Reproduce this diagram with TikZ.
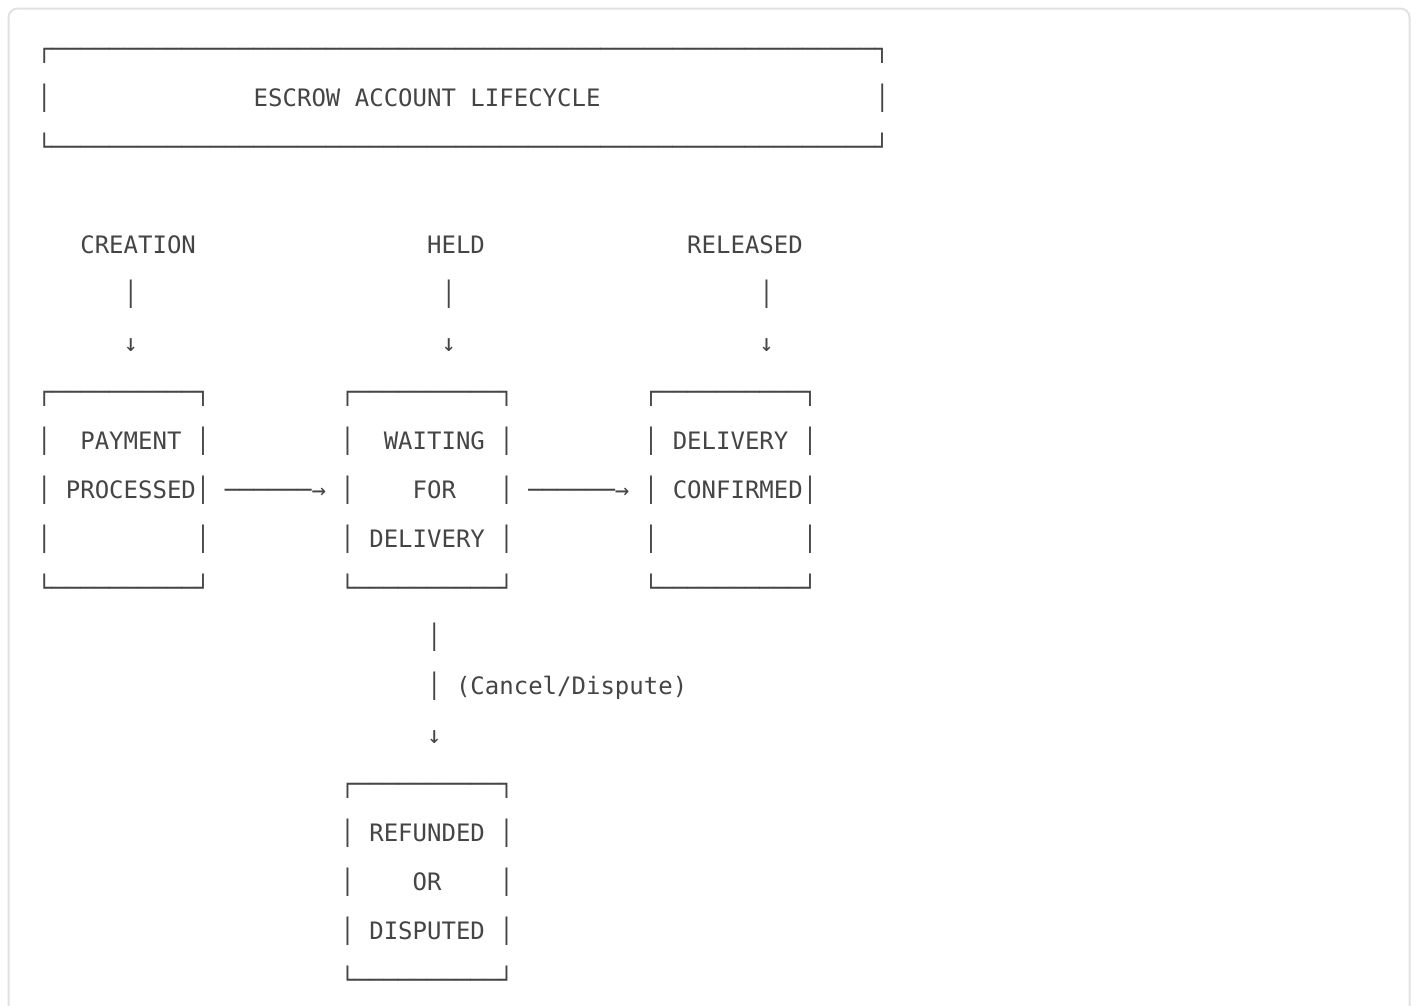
\documentclass[tikz,border=0pt]{standalone}
\usepackage{fontspec}
\newfontfamily\asciimono{DejaVu Sans Mono}
\definecolor{ink}{HTML}{454545}
\definecolor{framegray}{HTML}{E2E2E2}
\newcommand\asciicw{14.4492}
\newcommand\asciirow[4]{\node[txt] (#1) at ({37+#2*\asciicw},{57+#3*49.05}) {#4};}
\begin{document}
\begin{tikzpicture}[x=1pt,y=-1pt,
  txt/.style={anchor=base west, inner sep=0pt, outer sep=0pt, text=ink,
    font=\asciimono\fontsize{24pt}{49pt}\selectfont}]
\useasboundingbox (0,0) rectangle (1417,1005);
\fill[white] (0,0) rectangle (1417,1005);
\draw[framegray, line width=2pt, rounded corners=9pt] (8.5,8.5) rectangle (1409.5,1040);
% title box
\asciirow{t0}{0}{0}{┌─────────────────────────────────────────────────────────┐}
\asciirow{t1a}{0}{1}{│}
\asciirow{title}{15}{1}{ESCROW~ACCOUNT~LIFECYCLE}
\asciirow{t1b}{58}{1}{│}
\asciirow{t2}{0}{2}{└─────────────────────────────────────────────────────────┘}
% phase labels
\asciirow{creation}{3}{4}{CREATION}
\asciirow{held}{27}{4}{HELD}
\asciirow{released}{45}{4}{RELEASED}
\asciirow{v1}{6}{5}{│}
\asciirow{v2}{28}{5}{│}
\asciirow{v3}{50}{5}{│}
\asciirow{d1}{6}{6}{↓}
\asciirow{d2}{28}{6}{↓}
\asciirow{d3}{50}{6}{↓}
% state boxes row
\asciirow{a0}{0}{7}{┌──────────┐}
\asciirow{b0}{21}{7}{┌──────────┐}
\asciirow{c0}{42}{7}{┌──────────┐}
\asciirow{a1}{0}{8}{│~~PAYMENT~│}
\asciirow{b1}{21}{8}{│~~WAITING~│}
\asciirow{c1}{42}{8}{│~DELIVERY~│}
\asciirow{a2}{0}{9}{│~PROCESSED│}
\asciirow{ab}{13}{9}{──────→}
\asciirow{b2}{21}{9}{│~~~~FOR~~~│}
\asciirow{bc}{34}{9}{──────→}
\asciirow{c2}{42}{9}{│~CONFIRMED│}
\asciirow{a3}{0}{10}{│~~~~~~~~~~│}
\asciirow{b3}{21}{10}{│~DELIVERY~│}
\asciirow{c3}{42}{10}{│~~~~~~~~~~│}
\asciirow{a4}{0}{11}{└──────────┘}
\asciirow{b4}{21}{11}{└──────────┘}
\asciirow{c4}{42}{11}{└──────────┘}
% cancel path
\asciirow{w1}{27}{12}{│}
\asciirow{w2}{27}{13}{│}
\asciirow{cancel}{29}{13}{(Cancel/Dispute)}
\asciirow{w3}{27}{14}{↓}
\asciirow{r0}{21}{15}{┌──────────┐}
\asciirow{r1}{21}{16}{│~REFUNDED~│}
\asciirow{r2}{21}{17}{│~~~~OR~~~~│}
\asciirow{r3}{21}{18}{│~DISPUTED~│}
\asciirow{r4}{21}{19}{└──────────┘}
\end{tikzpicture}
\end{document}
